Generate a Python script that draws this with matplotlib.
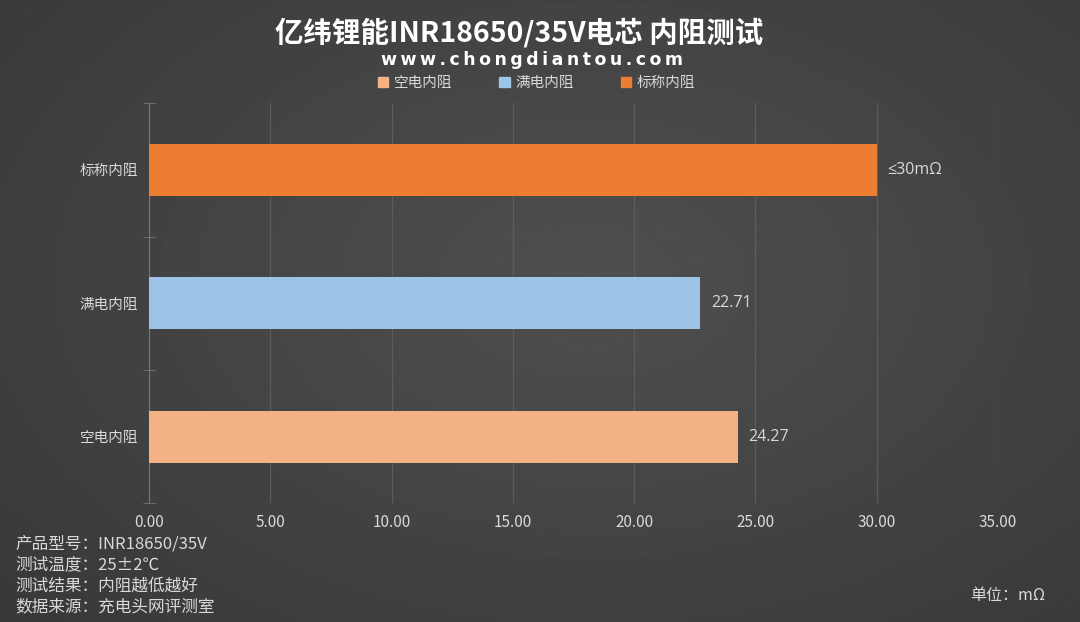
import numpy as np
import matplotlib.pyplot as plt
from matplotlib.patches import Patch

plt.rcParams['font.family'] = ['Noto Sans CJK SC', 'DejaVu Sans']

# 数据
categories = ["空电内阻", "满电内阻", "标称内阻"]
values = [24.27, 22.71, 30]
labels = ["24.27", "22.71", "≤30mΩ"]
colors = ["#F4B183", "#9DC3E6", "#ED7D31"]
xticks = [0, 5, 10, 15, 20, 25, 30, 35]
notes = ["产品型号：INR18650/35V", "测试温度：25±2℃",
         "测试结果：内阻越低越好", "数据来源：充电头网评测室"]

txt = "#d9d9d9"

fig = plt.figure(figsize=(10.8, 6.22), dpi=100)

# 背景渐变
bg = fig.add_axes([0, 0, 1, 1])
yy, xx = np.mgrid[0:1:300j, 0:1:500j]
r = np.sqrt((xx - 0.55) ** 2 + ((yy - 0.55) * 0.9) ** 2)
bg.imshow(0.31 - 0.12 * r, cmap="gray", vmin=0, vmax=1, aspect="auto",
          extent=[0, 1, 0, 1], origin="lower")
bg.axis("off")

ax = fig.add_axes([0.138, 0.191, 0.786, 0.643])
ax.patch.set_alpha(0)
y = np.arange(len(categories))
ax.barh(y, values, height=0.39, color=colors, zorder=3)
for yi, v, lab in zip(y, values, labels):
    ax.text(v + 0.45, yi, lab, va="center", ha="left", color=txt, fontsize=11.5,
            family=["Open Sans", "DejaVu Sans"])

ax.set_xlim(0, 35)
ax.set_ylim(-0.5, 2.5)
ax.set_xticks(xticks)
ax.set_xticklabels([f"{t:.2f}" for t in xticks])
ax.set_yticks(y)
ax.set_yticklabels(categories)
ax.set_yticks([-0.5, 0.5, 1.5, 2.5], minor=True)
ax.tick_params(axis="x", length=0, colors=txt, labelsize=11, pad=8)
ax.tick_params(axis="y", which="major", length=0, colors=txt, labelsize=10.5, pad=8)
ax.tick_params(axis="y", which="minor", length=8, direction="inout", color="#777777")
ax.grid(axis="x", color="#5c5c5c", linewidth=0.9, zorder=0)
for s in ["top", "right", "bottom"]:
    ax.spines[s].set_visible(False)
ax.spines["left"].set_color("#777777")

# 标题
fig.text(0.481, 0.948, "亿纬锂能INR18650/35V电芯 内阻测试", ha="center", va="center",
         color="white", fontsize=20.5, fontweight="bold")
fig.text(0.493, 0.903, "w w w . c h o n g d i a n t o u . c o m".replace(" ", "\u2009"),
         ha="center", va="center", color="white", fontsize=12.5, fontweight="bold",
         family=["DejaVu Sans"])

handles = [Patch(color=c) for c in colors]
fig.legend(handles, categories, loc="center", bbox_to_anchor=(0.497, 0.866), ncol=3,
           frameon=False, labelcolor=txt, fontsize=10.5, handlelength=0.7,
           handleheight=0.7, handletextpad=0.4, columnspacing=3.2)

for i, n in enumerate(notes):
    fig.text(0.014, 0.125 - i * 0.0335, n, ha="left", va="center", color=txt, fontsize=12)

fig.text(0.898, 0.043, "单位：mΩ", ha="left", va="center", color=txt, fontsize=11.5)

fig.savefig("out.png", dpi=100)
